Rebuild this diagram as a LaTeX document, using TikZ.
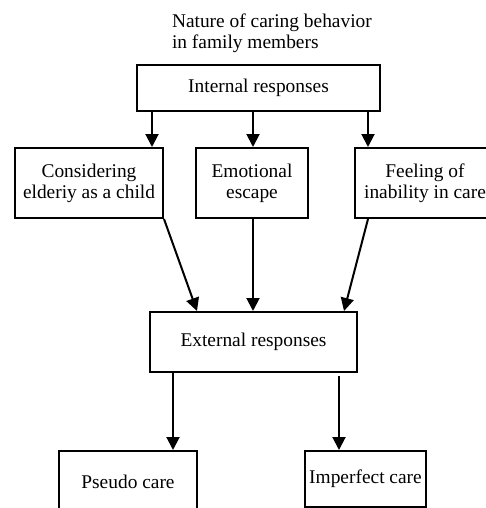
\documentclass[tikz,border=0pt]{standalone}
\usepackage{fontspec}
\setmainfont{Liberation Serif}
\usetikzlibrary{arrows.meta, calc}

\begin{document}
\begin{tikzpicture}[x=0.5pt, y=-0.5pt,
    every node/.style={draw, line width=1pt, align=center, inner sep=0pt,
        font=\fontsize{9.7}{10.5}\selectfont},
    every path/.style={line width=1pt},
    arr/.style={-{Triangle[length=6.5pt, width=6.5pt]}}]

    \useasboundingbox (0,0) rectangle (486,508);

    \node[draw=none, anchor=north west, align=left] (0) at (171,13) {Nature of caring behavior\\in family members};

    \node[minimum width=121.5pt, minimum height=23pt] (1) at (258.5,88) {Internal responses};

    \node[minimum width=74pt, minimum height=35pt] (2) at (89,183) {Considering\\elderiy as a child};
    \node[minimum width=56pt, minimum height=35pt] (3) at (252,183) {Emotional\\escape};
    \node[minimum width=70pt, minimum height=35pt] (4) at (425,183) {Feeling of\\inability in care};

    \node[minimum width=103.5pt, minimum height=30pt] (5) at (253.5,342) {External responses};

    \node[minimum width=69pt, minimum height=31pt] (6) at (128,482) {Pseudo care};
    \node[minimum width=60.5pt, minimum height=28pt] (7) at (365.5,479) {Imperfect care};

    \draw[arr] (1.south -| 152,0) to (2.north -| 152,0);
    \draw[arr] (1.south -| 253,0) to (3.north -| 253,0);
    \draw[arr] (1.south -| 368,0) to (4.north -| 368,0);

    \draw[arr] (2.south east) to (5.north -| 197,0);
    \draw[arr] (3.south -| 253,0) to (5.north -| 253,0);
    \draw[arr] (4.south -| 368,0) to (5.north -| 344,0);

    \draw[arr] (5.south -| 173,0) to (6.north -| 173,0);
    \draw[arr] ($(5.south -| 339,0)+(0,3)$) to (7.north -| 339,0);

\end{tikzpicture}
\end{document}
